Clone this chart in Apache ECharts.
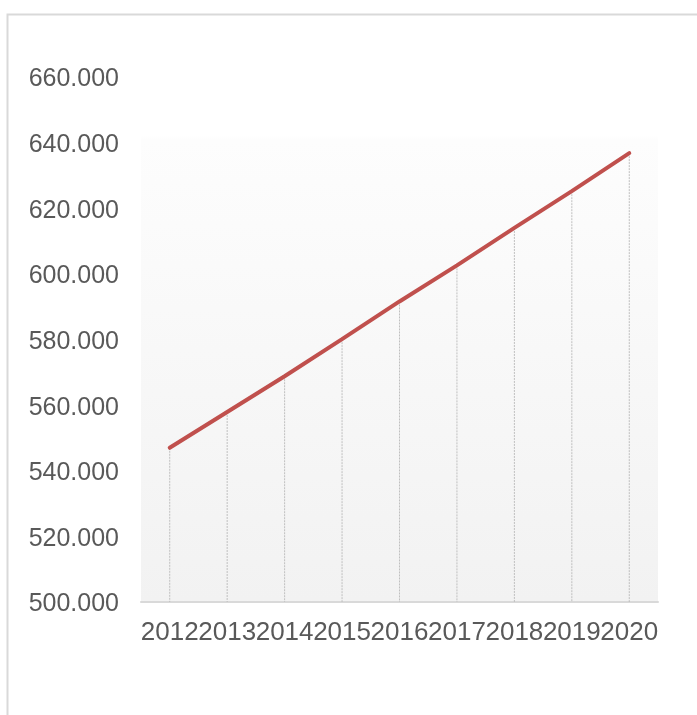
<!DOCTYPE html>
<html>
<head>
<meta charset="utf-8">
<style>html,body{margin:0;padding:0;background:#fff;}#c{width:697px;height:715px;}</style>
<script src="https://cdn.jsdelivr.net/npm/echarts@6/dist/echarts.min.js"></script>
</head>
<body>
<div id="c"></div>
<script>
var categories = ['2012','2013','2014','2015','2016','2017','2018','2019','2020'];
var values = [547.0, 557.9, 568.8, 580.1, 591.6, 602.6, 614.0, 625.2, 636.8];
var yMin = 500, yMax = 660, yStep = 20;

var chart = echarts.init(document.getElementById('c'));
chart.setOption({
  animation: false,
  backgroundColor: '#ffffff',
  graphic: [{
    type: 'rect', left: 5, top: 12, z: -10,
    shape: { width: 720, height: 740 },
    style: { fill: 'none', stroke: '#d9d9d9', lineWidth: 2 }
  }],
  grid: {
    left: 141, right: 39, top: 77, bottom: 113,
    show: true, borderWidth: 0,
    backgroundColor: {
      type: 'linear', x: 0, y: 0, x2: 0, y2: 1,
      colorStops: [
        { offset: 0, color: '#ffffff' },
        { offset: 0.11, color: '#ffffff' },
        { offset: 0.12, color: '#fdfdfd' },
        { offset: 1, color: '#f2f2f2' }
      ]
    }
  },
  xAxis: {
    type: 'category', data: categories, boundaryGap: true,
    axisLine: { lineStyle: { color: '#d9d9d9', width: 2 } },
    axisTick: { show: false },
    axisLabel: { color: '#595959', fontSize: 26, fontFamily: 'Liberation Sans, Arial, sans-serif', margin: 18, interval: 0 }
  },
  yAxis: {
    type: 'value', min: yMin, max: yMax, interval: yStep,
    axisLine: { show: false }, axisTick: { show: false },
    splitLine: { show: false },
    axisLabel: { color: '#595959', fontSize: 25, fontFamily: 'Liberation Sans, Arial, sans-serif', margin: 22,
      formatter: function (v) { return '{a|' + v.toFixed(3) + '}'; },
      rich: { a: { color: '#595959', fontSize: 25, fontFamily: 'Liberation Sans, Arial, sans-serif', padding: [5, 0, 0, 0] } } }
  },
  series: [{
    type: 'custom',
    renderItem: function (params, api) {
      var top = api.coord([api.value(0), api.value(1)]);
      var bot = api.coord([api.value(0), yMin]);
      return {
        type: 'line',
        shape: { x1: top[0], y1: top[1], x2: bot[0], y2: bot[1] },
        style: { stroke: '#bfbfbf', lineWidth: 1, lineDash: [2, 1] }
      };
    },
    data: values.map(function (v, i) { return [i, v]; }),
    z: 1
  }, {
    type: 'line', data: values, symbol: 'none',
    lineStyle: { color: '#c0504d', width: 4, cap: 'round' },
    z: 3
  }]
});
</script>
</body>
</html>
